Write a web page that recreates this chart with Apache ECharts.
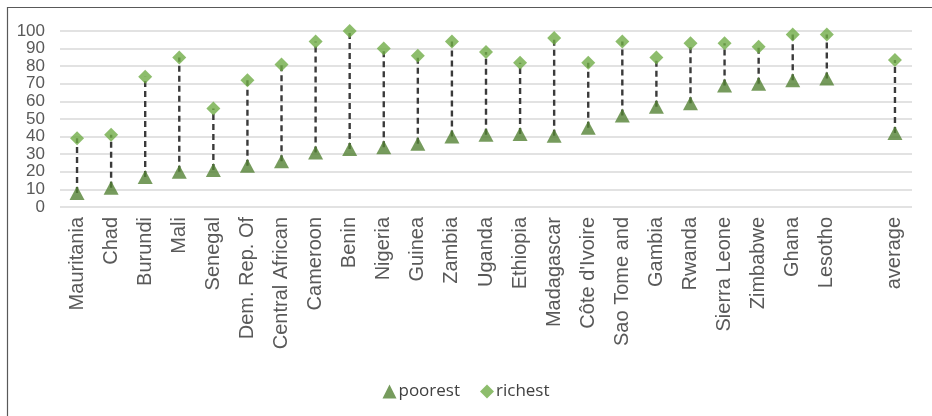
<!DOCTYPE html>
<html>
<head>
<meta charset="utf-8">
<script src="https://cdn.jsdelivr.net/npm/echarts@6/dist/echarts.min.js"></script>
<style>
  html, body { margin: 0; padding: 0; background: #fff; }
  #chart-container { width: 932px; height: 416px; }
</style>
</head>
<body>
<div id="chart-container"></div>
<script>
// categories (blank slot before "average" as in the source)
const countries = ['Mauritania', 'Chad', 'Burundi', 'Mali', 'Senegal', 'Dem. Rep. Of', 'Central African',
    'Cameroon', 'Benin', 'Nigeria', 'Guinea', 'Zambia', 'Uganda', 'Ethiopia', 'Madagascar',
    "Côte d'Ivoire", 'Sao Tome and', 'Gambia', 'Rwanda', 'Sierra Leone', 'Zimbabwe', 'Ghana',
    'Lesotho', '', 'average'];
const poorest = [8, 11, 17, 20, 21, 23.5, 26, 31, 33, 34, 36, 40, 41, 41.5, 40.5, 45, 52, 57, 59, 69, 70, 72, 73, null, 42];
const richest = [39, 41, 74, 85, 56, 72, 81, 94, 100, 90, 86, 94, 88, 82, 96, 82, 94, 85, 93, 93, 91, 98, 98, null, 83.5];
const yTicks = { min: 0, max: 100, interval: 10 };

const myChart = echarts.init(document.getElementById('chart-container'));

const rangeData = [];
countries.forEach((c, i) => {
    if (poorest[i] != null && richest[i] != null) {
        rangeData.push([i, poorest[i], richest[i]]);
    }
});

const option = {
    animation: false,
    backgroundColor: '#fff',
    graphic: [{
        type: 'rect',
        left: 5, top: 5,
        shape: { width: 1000, height: 500 },
        style: { fill: 'none', stroke: '#595959', lineWidth: 1.2 },
        silent: true
    }],
    grid: { left: 60, right: 20, top: 31, bottom: 209 },
    legend: {
        left: 'center',
        top: 378,
        itemGap: 20,
        itemWidth: 14,
        itemHeight: 14,
        textStyle: { fontFamily: 'Open Sans', fontSize: 17, color: '#404040', padding: [0, 0, 0, -3] },
        data: [
            { name: 'poorest', icon: 'triangle' },
            { name: 'richest', icon: 'diamond' }
        ]
    },
    xAxis: {
        type: 'category',
        data: countries,
        boundaryGap: true,
        axisLine: { show: false },
        axisTick: { show: false },
        axisLabel: {
            rotate: 90,
            interval: 0,
            margin: 10,
            fontFamily: 'Liberation Sans',
            fontSize: 20,
            color: '#595959'
        }
    },
    yAxis: {
        type: 'value',
        min: yTicks.min,
        max: yTicks.max,
        interval: yTicks.interval,
        axisLine: { show: false },
        axisTick: { show: false },
        splitLine: { lineStyle: { color: '#d9d9d9', width: 1.5 } },
        axisLabel: {
            margin: 15,
            fontFamily: 'Liberation Sans',
            fontSize: 17,
            color: '#595959'
        }
    },
    series: [
        {
            name: 'range',
            type: 'custom',
            z: 1,
            silent: true,
            data: rangeData,
            renderItem: function (params, api) {
                const lo = api.coord([api.value(0), api.value(1)]);
                const hi = api.coord([api.value(0), api.value(2)]);
                return {
                    type: 'line',
                    shape: { x1: lo[0], y1: lo[1], x2: hi[0], y2: hi[1] },
                    style: { stroke: '#3a3a3a', lineWidth: 2.4, lineDash: [6, 4] }
                };
            }
        },
        {
            name: 'poorest',
            type: 'scatter',
            symbol: 'triangle',
            symbolSize: [15, 14],
            z: 3,
            itemStyle: { color: '#548235' },
            data: poorest
        },
        {
            name: 'richest',
            type: 'scatter',
            symbol: 'diamond',
            symbolSize: [14, 14],
            z: 3,
            itemStyle: { color: '#70ad47' },
            data: richest
        }
    ]
};

myChart.setOption(option);
</script>
</body>
</html>
